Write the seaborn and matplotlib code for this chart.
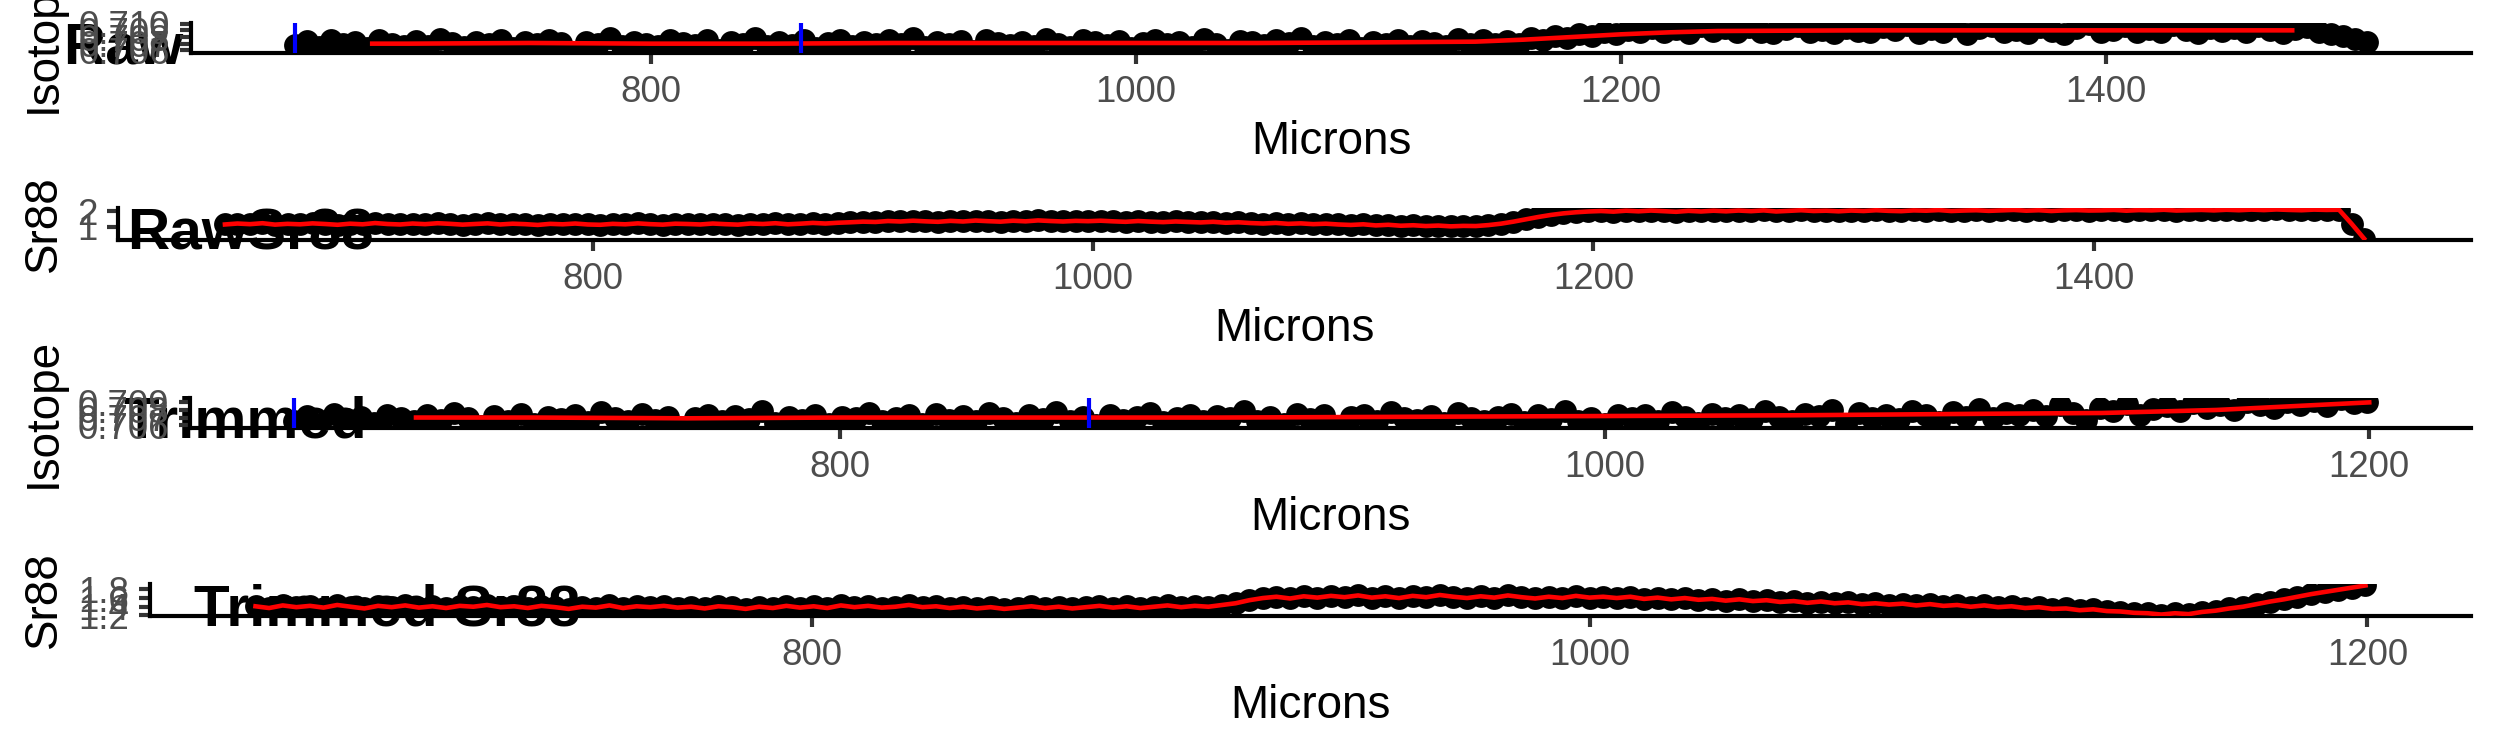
import matplotlib
matplotlib.use("Agg")
import matplotlib.pyplot as plt
import seaborn as sns

plt.rcParams['font.family'] = ['Liberation Sans', 'DejaVu Sans']

# ---------------- data ----------------
raw_microns = [653, 658, 663, 668, 673, 678, 683, 688, 693, 698,
               703, 708, 713, 718, 723, 728, 733, 738, 743, 748,
               753, 758, 763, 768, 773, 778, 783, 788, 793, 798,
               803, 808, 813, 818, 823, 828, 833, 838, 843, 848,
               853, 858, 863, 868, 873, 878, 883, 888, 893, 898,
               903, 908, 913, 918, 923, 928, 933, 938, 943, 948,
               953, 958, 963, 968, 973, 978, 983, 988, 993, 998,
               1003, 1008, 1013, 1018, 1023, 1028, 1033, 1038, 1043, 1048,
               1053, 1058, 1063, 1068, 1073, 1078, 1083, 1088, 1093, 1098,
               1103, 1108, 1113, 1118, 1123, 1128, 1133, 1138, 1143, 1148,
               1153, 1158, 1163, 1168, 1173, 1178, 1183, 1188, 1193, 1198,
               1203, 1208, 1213, 1218, 1223, 1228, 1233, 1238, 1243, 1248,
               1253, 1258, 1263, 1268, 1273, 1278, 1283, 1288, 1293, 1298,
               1303, 1308, 1313, 1318, 1323, 1328, 1333, 1338, 1343, 1348,
               1353, 1358, 1363, 1368, 1373, 1378, 1383, 1388, 1393, 1398,
               1403, 1408, 1413, 1418, 1423, 1428, 1433, 1438, 1443, 1448,
               1453, 1458, 1463, 1468, 1473, 1478, 1483, 1488, 1493, 1498,
               1503, 1508]

raw_isotope = [0.7068, 0.7074, 0.7065, 0.7076, 0.7069, 0.7072, 0.7064, 0.7075, 0.7070, 0.7067,
               0.7074, 0.7067, 0.7077, 0.7071, 0.7065, 0.7073, 0.7069, 0.7076, 0.7063, 0.7072,
               0.7069, 0.7075, 0.7071, 0.7058, 0.7073, 0.7069, 0.7078, 0.7066, 0.7073, 0.7070,
               0.7066, 0.7075, 0.7071, 0.7068, 0.7076, 0.7061, 0.7072, 0.7069, 0.7078, 0.7066,
               0.7073, 0.7068, 0.7075, 0.7064, 0.7071, 0.7076, 0.7067, 0.7072, 0.7070, 0.7075,
               0.7070, 0.7078, 0.7065, 0.7073, 0.7069, 0.7074, 0.7059, 0.7076, 0.7071, 0.7068,
               0.7073, 0.7066, 0.7077, 0.7070, 0.7065, 0.7075, 0.7072, 0.7068, 0.7074, 0.7064,
               0.7071, 0.7076, 0.7069, 0.7073, 0.7065, 0.7077, 0.7070, 0.7060, 0.7074, 0.7072,
               0.7068, 0.7075, 0.7071, 0.7078, 0.7066, 0.7072, 0.7069, 0.7076, 0.7064, 0.7073,
               0.7070, 0.7076, 0.7066, 0.7074, 0.7071, 0.7067, 0.7077, 0.7070, 0.7075, 0.7069,
               0.7074, 0.7070, 0.7078, 0.7076, 0.7081, 0.7079, 0.7084, 0.7082, 0.7087, 0.7085,
               0.7091, 0.7087, 0.7094, 0.7088, 0.7092, 0.7086, 0.7096, 0.7089, 0.7093, 0.7087,
               0.7095, 0.7088, 0.7086, 0.7092, 0.7097, 0.7087, 0.7091, 0.7086, 0.7094, 0.7089,
               0.7087, 0.7095, 0.7090, 0.7098, 0.7086, 0.7092, 0.7088, 0.7096, 0.7085, 0.7093,
               0.7097, 0.7087, 0.7091, 0.7086, 0.7095, 0.7089, 0.7085, 0.7093, 0.7099, 0.7088,
               0.7090, 0.7096, 0.7087, 0.7092, 0.7087, 0.7098, 0.7090, 0.7086, 0.7094, 0.7089,
               0.7093, 0.7087, 0.7097, 0.7090, 0.7086, 0.7092, 0.7095, 0.7088, 0.7084, 0.7082,
               0.7077, 0.7072]

raw_smooth_microns = [685, 700, 750, 800, 850, 900, 950, 1000, 1050, 1100, 1140,
                      1160, 1180, 1200, 1220, 1240, 1300, 1350, 1400, 1450, 1477]
raw_smooth_isotope = [0.7070, 0.7070, 0.7071, 0.7070, 0.7070, 0.7071, 0.7071, 0.7071, 0.7071, 0.7072, 0.7073,
                      0.7076, 0.7080, 0.7084, 0.7087, 0.7089, 0.7090, 0.7090, 0.7090, 0.7090, 0.7090]

raw_sr88 = [1.15, 1.21, 1.17, 1.23, 1.14, 1.19, 1.16, 1.22, 1.18, 1.13,
            1.20, 1.16, 1.24, 1.18, 1.15, 1.21, 1.17, 1.23, 1.19, 1.14,
            1.18, 1.22, 1.15, 1.20, 1.17, 1.12, 1.19, 1.16, 1.21, 1.15,
            1.13, 1.19, 1.16, 1.22, 1.17, 1.14, 1.20, 1.18, 1.15, 1.21,
            1.17, 1.14, 1.21, 1.18, 1.23, 1.16, 1.20, 1.25, 1.21, 1.26,
            1.29, 1.33, 1.31, 1.37, 1.34, 1.39, 1.35, 1.32, 1.38, 1.34,
            1.40, 1.36, 1.33, 1.39, 1.35, 1.41, 1.37, 1.34, 1.38, 1.36,
            1.39, 1.35, 1.32, 1.37, 1.33, 1.30, 1.34, 1.31, 1.28, 1.32,
            1.26, 1.29, 1.24, 1.21, 1.25, 1.19, 1.22, 1.17, 1.20, 1.15,
            1.12, 1.16, 1.09, 1.13, 1.07, 1.10, 1.05, 1.08, 1.03, 1.06,
            1.05, 1.11, 1.20, 1.33, 1.48, 1.63, 1.76, 1.86, 1.93, 1.98,
            2.01, 1.97, 2.03, 1.99, 2.04, 2.00, 1.96, 2.02, 1.98, 2.03,
            1.99, 2.04, 2.00, 2.05, 1.98, 2.02, 2.06, 2.01, 2.03, 1.99,
            2.04, 2.01, 2.06, 2.02, 2.00, 2.05, 2.03, 2.07, 2.01, 2.04,
            2.06, 2.02, 2.05, 2.08, 2.03, 2.06, 2.01, 2.05, 2.07, 2.04,
            2.05, 2.08, 2.03, 2.07, 2.05, 2.09, 2.04, 2.06, 2.08, 2.05,
            2.09, 2.06, 2.10, 2.07, 2.11, 2.08, 2.06, 2.10, 2.08, 2.09,
            1.20, 0.25]

trim_microns = [657, 660.5, 664, 667.5, 671, 674.5, 678, 681.5, 685, 688.5,
                692, 695.5, 699, 702.5, 706, 709.5, 713, 716.5, 720, 723.5,
                727, 730.5, 734, 737.5, 741, 744.5, 748, 751.5, 755, 758.5,
                762, 765.5, 769, 772.5, 776, 779.5, 783, 786.5, 790, 793.5,
                797, 800.5, 804, 807.5, 811, 814.5, 818, 821.5, 825, 828.5,
                832, 835.5, 839, 842.5, 846, 849.5, 853, 856.5, 860, 863.5,
                867, 870.5, 874, 877.5, 881, 884.5, 888, 891.5, 895, 898.5,
                902, 905.5, 909, 912.5, 916, 919.5, 923, 926.5, 930, 933.5,
                937, 940.5, 944, 947.5, 951, 954.5, 958, 961.5, 965, 968.5,
                972, 975.5, 979, 982.5, 986, 989.5, 993, 996.5, 1000, 1003.5,
                1007, 1010.5, 1014, 1017.5, 1021, 1024.5, 1028, 1031.5, 1035, 1038.5,
                1042, 1045.5, 1049, 1052.5, 1056, 1059.5, 1063, 1066.5, 1070, 1073.5,
                1077, 1080.5, 1084, 1087.5, 1091, 1094.5, 1098, 1101.5, 1105, 1108.5,
                1112, 1115.5, 1119, 1122.5, 1126, 1129.5, 1133, 1136.5, 1140, 1143.5,
                1147, 1150.5, 1154, 1157.5, 1161, 1164.5, 1168, 1171.5, 1175, 1178.5,
                1182, 1185.5, 1189, 1192.5, 1196, 1199.5]

trim_isotope = [0.7066, 0.7072, 0.7062, 0.7075, 0.7068, 0.7071, 0.7063, 0.7074, 0.7069, 0.7065,
                0.7073, 0.7067, 0.7076, 0.7070, 0.7059, 0.7072, 0.7066, 0.7075, 0.7062, 0.7071,
                0.7068, 0.7074, 0.7064, 0.7077, 0.7069, 0.7066, 0.7075, 0.7067, 0.7071, 0.7058,
                0.7070, 0.7074, 0.7065, 0.7072, 0.7068, 0.7078, 0.7063, 0.7071, 0.7067, 0.7073,
                0.7062, 0.7071, 0.7069, 0.7076, 0.7066, 0.7070, 0.7073, 0.7061, 0.7075, 0.7067,
                0.7072, 0.7065, 0.7076, 0.7069, 0.7063, 0.7073, 0.7068, 0.7077, 0.7066, 0.7071,
                0.7060, 0.7073, 0.7067, 0.7071, 0.7076, 0.7064, 0.7070, 0.7074, 0.7066, 0.7072,
                0.7069, 0.7078, 0.7066, 0.7071, 0.7062, 0.7075, 0.7068, 0.7073, 0.7059, 0.7071,
                0.7074, 0.7066, 0.7077, 0.7070, 0.7067, 0.7072, 0.7063, 0.7076, 0.7069, 0.7065,
                0.7071, 0.7075, 0.7064, 0.7073, 0.7068, 0.7078, 0.7066, 0.7070, 0.7061, 0.7074,
                0.7070, 0.7073, 0.7066, 0.7077, 0.7071, 0.7063, 0.7075, 0.7069, 0.7074, 0.7068,
                0.7078, 0.7071, 0.7065, 0.7075, 0.7072, 0.7080, 0.7062, 0.7076, 0.7070, 0.7073,
                0.7068, 0.7079, 0.7074, 0.7064, 0.7077, 0.7071, 0.7081, 0.7069, 0.7076, 0.7073,
                0.7080, 0.7072, 0.7086, 0.7076, 0.7067, 0.7083, 0.7078, 0.7088, 0.7074, 0.7081,
                0.7085, 0.7079, 0.7089, 0.7083, 0.7087, 0.7080, 0.7091, 0.7086, 0.7082, 0.7090,
                0.7087, 0.7092, 0.7085, 0.7094, 0.7089, 0.7091]

trim_smooth_microns = [689, 720, 760, 800, 850, 900, 950, 1000, 1050, 1100, 1130, 1160, 1180, 1200]
trim_smooth_isotope = [0.7070, 0.7070, 0.7069, 0.7070, 0.7070, 0.7070, 0.7071, 0.7072, 0.7073,
                       0.7075, 0.7076, 0.7080, 0.7085, 0.7090]

trim_sr88 = [1.41, 1.37, 1.43, 1.39, 1.42, 1.38, 1.44, 1.40, 1.36, 1.42,
             1.39, 1.43, 1.38, 1.41, 1.37, 1.42, 1.40, 1.44, 1.39, 1.41,
             1.37, 1.42, 1.39, 1.35, 1.40, 1.38, 1.43, 1.37, 1.41, 1.39,
             1.42, 1.38, 1.40, 1.36, 1.41, 1.39, 1.35, 1.40, 1.37, 1.42,
             1.38, 1.41, 1.37, 1.43, 1.39, 1.42, 1.38, 1.40, 1.44, 1.39,
             1.41, 1.37, 1.40, 1.36, 1.39, 1.35, 1.38, 1.41, 1.37, 1.40,
             1.36, 1.39, 1.42, 1.38, 1.41, 1.37, 1.40, 1.43, 1.39, 1.42,
             1.40, 1.44, 1.48, 1.55, 1.60, 1.63, 1.59, 1.64, 1.61, 1.65,
             1.62, 1.66, 1.61, 1.64, 1.60, 1.65, 1.62, 1.67, 1.63, 1.60,
             1.64, 1.61, 1.66, 1.62, 1.59, 1.63, 1.60, 1.65, 1.61, 1.63,
             1.60, 1.63, 1.58, 1.61, 1.57, 1.60, 1.56, 1.58, 1.54, 1.57,
             1.53, 1.55, 1.51, 1.53, 1.49, 1.52, 1.48, 1.50, 1.46, 1.48,
             1.45, 1.47, 1.43, 1.46, 1.42, 1.44, 1.40, 1.43, 1.39, 1.41,
             1.37, 1.39, 1.35, 1.36, 1.32, 1.34, 1.30, 1.29, 1.26, 1.25,
             1.22, 1.25, 1.23, 1.28, 1.31, 1.36, 1.40, 1.46, 1.52, 1.57,
             1.63, 1.69, 1.74, 1.79, 1.84, 1.89]

raw_marks = [653, 862]
trim_marks = [657, 865]

raw_xticks = [800, 1000, 1200, 1400]
trim_xticks = [800, 1000, 1200]
iso_raw_yticks = [0.706, 0.707, 0.708, 0.709, 0.710]
iso_raw_ylabels = ["0.706", "0.707", "0.708", "0.709", "0.710"]
sr_raw_yticks = [1, 2]
sr_raw_ylabels = ["1", "2"]
iso_trim_yticks = [0.706, 0.707, 0.708, 0.709]
iso_trim_ylabels = ["0.706", "0.707", "0.708", "0.709"]
sr_trim_yticks = [1.2, 1.4, 1.6, 1.8]
sr_trim_ylabels = ["1.2", "1.4", "1.6", "1.8"]

titles = ["Raw", "RawSr88", "Trimmed", "Trimmed Sr88"]
ylabels = ["Isotope", "Sr88", "Isotope", "Sr88"]

# ---------------- layout ----------------
W, H = 2495, 749
DPI = 300
fig = plt.figure(figsize=(W / DPI, H / DPI), dpi=DPI)
fig.patch.set_facecolor("white")

# (left, right, top, bottom) of each panel in pixels; title anchor (x, baseline)
panel_px = [(191, 2471, 23, 53), (118, 2471, 208, 240), (190, 2471, 398, 428), (150, 2471, 584, 616)]
title_px = [(63, 63), (127, 250), (123, 438), (194, 626)]
ylab_x = 56

specs = [
    dict(x=raw_microns, y=raw_isotope, sx=raw_smooth_microns, sy=raw_smooth_isotope,
         marks=raw_marks, xt=raw_xticks, yt=iso_raw_yticks, yl=iso_raw_ylabels),
    dict(x=raw_microns, y=raw_sr88, sx=raw_microns, sy=raw_sr88,
         marks=[], xt=raw_xticks, yt=sr_raw_yticks, yl=sr_raw_ylabels),
    dict(x=trim_microns, y=trim_isotope, sx=trim_smooth_microns, sy=trim_smooth_isotope,
         marks=trim_marks, xt=trim_xticks, yt=iso_trim_yticks, yl=iso_trim_ylabels),
    dict(x=trim_microns, y=trim_sr88, sx=trim_microns, sy=trim_sr88,
         marks=[], xt=trim_xticks, yt=sr_trim_yticks, yl=sr_trim_ylabels),
]


def expand(v):
    lo, hi = min(v), max(v)
    pad = 0.05 * (hi - lo)
    return lo - pad, hi + pad


for i, sp in enumerate(specs):
    l, r, t, b = panel_px[i]
    ax = fig.add_axes([l / W, 1 - b / H, (r - l) / W, (b - t) / H])
    ax.set_facecolor("none")
    sns.scatterplot(x=sp["x"], y=sp["y"], ax=ax, color="black", s=30,
                    linewidth=0, legend=False, zorder=2)
    sns.lineplot(x=sp["sx"], y=sp["sy"], ax=ax, color="#FF0000", linewidth=1.1,
                 estimator=None, legend=False, zorder=3)
    for m in sp["marks"]:
        ax.axvline(m, color="#0000FF", linewidth=1.0, zorder=4)

    ax.set_xlim(*expand(sp["x"]))
    ax.set_ylim(*expand(sp["y"]))
    ax.set_xticks(sp["xt"], labels=[str(v) for v in sp["xt"]])
    ax.set_yticks(sp["yt"], labels=sp["yl"])

    for s in ("top", "right"):
        ax.spines[s].set_visible(False)
    for s in ("left", "bottom"):
        ax.spines[s].set_linewidth(1.0)
        ax.spines[s].set_color("black")
    ax.tick_params(axis="both", length=2.75, width=1.0, color="#333333",
                   labelsize=8.8, labelcolor="#4D4D4D")
    ax.tick_params(axis="x", pad=2.6)
    ax.tick_params(axis="y", pad=2.2)

    ax.set_xlabel("Microns", fontsize=11, color="black")
    ax.xaxis.set_label_coords(0.5, -101.5 / (b - t))
    ax.xaxis.label.set_va("baseline")

    ax.set_ylabel(ylabels[i], fontsize=11, color="black")
    ax.yaxis.set_label_coords((ylab_x - l) / (r - l), 0.5)
    ax.yaxis.label.set_va("baseline")

    tx, ty = title_px[i]
    fig.text(tx / W, 1 - ty / H, titles[i], fontsize=14, fontweight="bold",
             ha="left", va="baseline", color="black", zorder=-1)

fig.savefig("out.png", dpi=DPI, facecolor="white")
